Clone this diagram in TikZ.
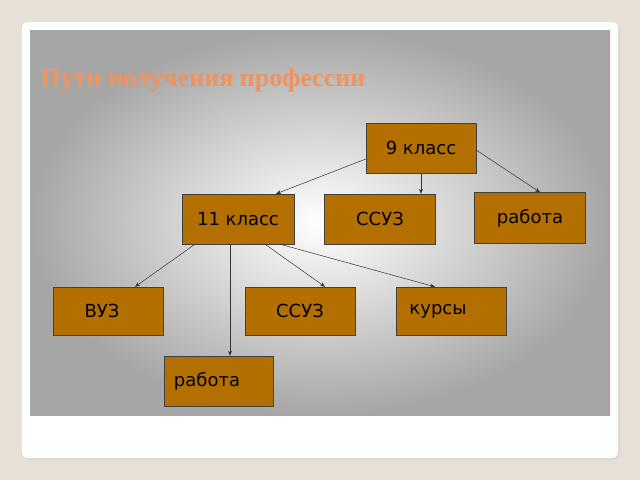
\documentclass[tikz,border=0pt]{standalone}
\usepackage{fontspec}
\setmainfont{DejaVu Sans}
\newfontfamily\titlefont{Liberation Serif}
\usetikzlibrary{arrows.meta,calc}
\definecolor{boxfill}{HTML}{B37000}
\definecolor{titlecol}{HTML}{F2925C}
\definecolor{bgcol}{HTML}{E6E0D6}
\tikzset{
  box/.style={draw=black!75, fill=boxfill, minimum width=110pt, minimum height=50pt, inner sep=0pt, font=\fontsize{18}{21}\selectfont},
  conn/.style={draw=black!80, line width=0.5pt, -{Stealth[length=5pt,width=4pt]}}
}
\begin{document}
\begin{tikzpicture}[x=1pt,y=-1pt]
\useasboundingbox (0,0) rectangle (640,480);
\fill[bgcol] (0,0) rectangle (640,480);
\fill[black!15, rounded corners=6pt] (24,24) rectangle (620,460);
\fill[white, rounded corners=6pt] (22,22) rectangle (618,458);
\shade[inner color=white, outer color=black!35] (30,30) rectangle (610,415);
\node[anchor=west, text=titlecol, font=\titlefont\bfseries\fontsize{26}{30}\selectfont] (title) at (37,80) {Пути получения профессии};
\node[box] (n9) at (421,148) {9 класс};
\node[box, minimum width=112pt] (n11) at (238,219) {11 класс};
\node[box, minimum width=111pt] (ss1) at (380,219) {ССУЗ};
\node[box, minimum width=111pt, minimum height=51pt] (rab1) at (530,218) {\raisebox{3pt}{работа}};
\node[box, minimum height=48pt] (vuz) at (108,311) {\hspace*{-12pt}ВУЗ};
\node[box, minimum height=48pt] (ss2) at (300,311) {ССУЗ};
\node[box, minimum height=48pt] (kurs) at (451,311) {\hspace*{-26pt}курсы};
\node[box, minimum width=109pt] (rab2) at (219,381) {\hspace*{-24pt}работа};
\draw[conn] ($(n9.west)+(0,11)$) -- ($(n11.north)+(38,0)$);
\draw[conn] (n9.south) -- (n9.south |- ss1.north);
\draw[conn] ($(n9.east)+(0,2)$) -- ($(rab1.north)+(10,0)$);
\draw[conn] ($(n11.south)+(-43,0)$) -- ($(vuz.north)+(27,0)$);
\draw[conn] ($(n11.south)+(-8,0)$) -- ($(rab2.north)+(11,0)$);
\draw[conn] ($(n11.south)+(27,0)$) -- ($(ss2.north)+(25,0)$);
\draw[conn] ($(n11.south)+(42,0)$) -- ($(kurs.north)+(-16,0)$);
\end{tikzpicture}
\end{document}
